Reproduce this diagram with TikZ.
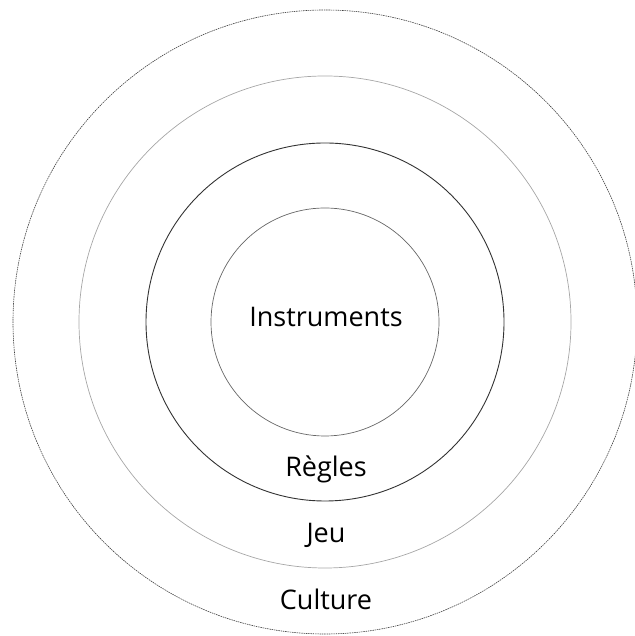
\documentclass[tikz,border=0pt]{standalone}
\usepackage{fontspec}
\setmainfont{Open Sans}

\begin{document}
\begin{tikzpicture}[x=1pt,y=1pt,
  label/.style={anchor=base,font=\fontsize{27}{30}\selectfont,inner sep=0pt},
  outerring/.style={draw=black!75,line width=0.6pt,dash pattern=on 1.5pt off 0.8pt},
  lightring/.style={draw=black!35,line width=0.7pt},
  darkring/.style={draw=black!80,line width=0.9pt},
  innerring/.style={draw=black!60,line width=0.7pt}]
  \useasboundingbox (0,0) rectangle (634,636);
  \coordinate (c) at (325,314);
  \draw[outerring] (c) circle (312);
  \draw[lightring] (c) circle (246);
  \draw[darkring] (c) circle (179);
  \draw[innerring] (c) circle (114);
  \node[label] (instruments) at (326,309) {Instruments};
  \node[label] (regles) at (326,159) {Règles};
  \node[label] (jeu) at (326,93) {Jeu};
  \node[label] (culture) at (326,26) {Culture};
\end{tikzpicture}
\end{document}
